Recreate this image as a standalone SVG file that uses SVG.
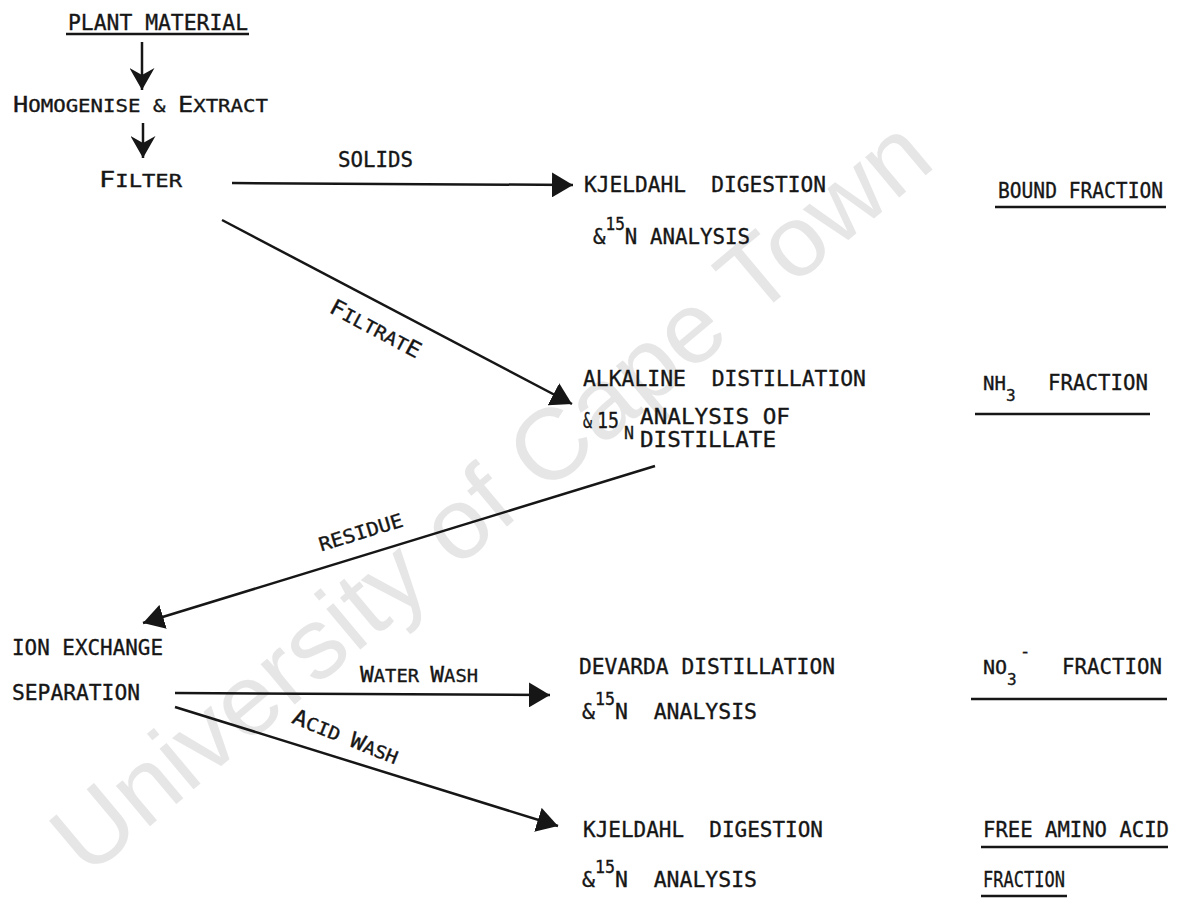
<svg xmlns="http://www.w3.org/2000/svg" width="1188" height="904" viewBox="0 0 1188 904">
<style>
text{font-family:"DejaVu Sans Mono","Liberation Mono",monospace;fill:#161616;stroke:#161616;stroke-width:0.35;font-size:22px;white-space:pre}
.sm{font-size:18px}
.sup{font-size:17px}
.lbl{font-size:18px}
.big{font-size:22px}
.wm{font-family:"Liberation Sans",Arial,sans-serif;fill:#e6e6e6;stroke:none;font-size:100px}
.c{stroke:#161616;stroke-width:2.5;fill:none}
.u{stroke:#161616;stroke-width:2.5}
.h{fill:#161616}
</style>
<defs>
<marker id="ah" viewBox="0 0 21 25" refX="21" refY="12.5" markerWidth="21" markerHeight="25" markerUnits="userSpaceOnUse" orient="auto"><path class="h" d="M0,0 L21,12.5 L0,25 Z"/></marker>
<marker id="dn" viewBox="0 0 22 25" refX="22" refY="12.5" markerWidth="22" markerHeight="25" markerUnits="userSpaceOnUse" orient="auto"><path class="h" d="M0,0 L7,12.5 L0,25 L22,12.5 Z"/></marker>
</defs>
<rect width="1188" height="904" fill="#fff"/>
<text class="wm" x="490" y="530" text-anchor="middle" textLength="1110" lengthAdjust="spacingAndGlyphs" transform="rotate(-40 490 495)">University of Cape Town</text>

<g id="connectors">
<path class="c" d="M142,42 L142,90" marker-end="url(#dn)"/>
<path class="c" d="M143,123 L143,158" marker-end="url(#dn)"/>
<path class="c" d="M232,183 L573,185" marker-end="url(#ah)"/>
<path class="c" d="M222,220 L572,404" marker-end="url(#ah)"/>
<path class="c" d="M655,466 L143,623" marker-end="url(#ah)"/>
<path class="c" d="M175,693 L550,695" marker-end="url(#ah)"/>
<path class="c" d="M175,707 L558,826" marker-end="url(#ah)"/>
<text class="lbl" style="font-size:21px" x="338" y="167" textLength="75" lengthAdjust="spacingAndGlyphs">SOLIDS</text>
<text class="lbl" x="375" y="336" text-anchor="middle" textLength="100" lengthAdjust="spacingAndGlyphs" transform="rotate(28 375 330)"><tspan class="big">F</tspan>ILTRAT<tspan class="big">E</tspan></text>
<text class="lbl" style="font-size:19px" x="361" y="539" text-anchor="middle" textLength="87" lengthAdjust="spacingAndGlyphs" transform="rotate(-17 361 533)">RESIDUE</text>
<text class="lbl" x="360" y="682" textLength="118" lengthAdjust="spacingAndGlyphs"><tspan class="big">W</tspan>ATER <tspan class="big">W</tspan>ASH</text>
<text class="lbl" x="345" y="744" text-anchor="middle" textLength="112" lengthAdjust="spacingAndGlyphs" transform="rotate(22 345 738)"><tspan class="big">A</tspan>CID <tspan class="big">W</tspan>ASH</text>
</g>

<g id="plant">
<text x="68" y="30" textLength="180" lengthAdjust="spacingAndGlyphs">PLANT MATERIAL</text>
<line class="u" x1="66" y1="34" x2="249" y2="34"/>
</g>
<g id="homogenise">
<text x="13" y="112" textLength="255" lengthAdjust="spacingAndGlyphs">H<tspan class="sm">OMOGENISE &amp; </tspan>E<tspan class="sm">XTRACT</tspan></text>
</g>
<g id="filter">
<text x="99" y="187" textLength="83" lengthAdjust="spacingAndGlyphs">F<tspan class="sm">ILTER</tspan></text>
</g>
<g id="kjeldahl1">
<text x="584" y="192" textLength="242" lengthAdjust="spacingAndGlyphs">KJELDAHL  DIGESTION</text>
<text x="593" y="244" textLength="157" lengthAdjust="spacingAndGlyphs">&amp;<tspan class="sup" dy="-14">15</tspan><tspan dy="14">N ANALYSIS</tspan></text>
</g>
<g id="bound">
<text x="998" y="198" textLength="165" lengthAdjust="spacingAndGlyphs">BOUND FRACTION</text>
<line class="u" x1="995" y1="207" x2="1166" y2="207"/>
</g>
<g id="alkaline">
<text x="583" y="386" textLength="283" lengthAdjust="spacingAndGlyphs">ALKALINE  DISTILLATION</text>
<text x="583" y="428" textLength="9" lengthAdjust="spacingAndGlyphs">&amp;</text>
<text x="597" y="428" textLength="22" lengthAdjust="spacingAndGlyphs">15</text>
<text class="sm" x="624" y="439" textLength="10" lengthAdjust="spacingAndGlyphs">N</text>
<text x="640" y="424" textLength="150" lengthAdjust="spacingAndGlyphs">ANALYSIS OF</text>
<text x="640" y="447" textLength="136" lengthAdjust="spacingAndGlyphs">DISTILLATE</text>
</g>
<g id="nh3">
<text x="983" y="390" style="font-size:19px">NH<tspan class="sup" style="font-size:16px" dy="11">3</tspan></text>
<text x="1048" y="390" textLength="100" lengthAdjust="spacingAndGlyphs">FRACTION</text>
<line class="u" x1="975" y1="414" x2="1150" y2="414"/>
</g>
<g id="ion">
<text x="12" y="655" textLength="151" lengthAdjust="spacingAndGlyphs">ION EXCHANGE</text>
<text x="12" y="700" textLength="128" lengthAdjust="spacingAndGlyphs">SEPARATION</text>
</g>
<g id="devarda">
<text x="579" y="674" textLength="256" lengthAdjust="spacingAndGlyphs">DEVARDA DISTILLATION</text>
<text x="582" y="719" textLength="175" lengthAdjust="spacingAndGlyphs">&amp;<tspan class="sup" dy="-14">15</tspan><tspan dy="14">N  ANALYSIS</tspan></text>
</g>
<g id="no3">
<text x="983" y="674" style="font-size:20px">NO<tspan class="sup" style="font-size:16px" dy="11">3</tspan></text>
<text class="sup" x="1020" y="657">-</text>
<text x="1062" y="674" textLength="100" lengthAdjust="spacingAndGlyphs">FRACTION</text>
<line class="u" x1="971" y1="699" x2="1167" y2="699"/>
</g>
<g id="kjeldahl2">
<text x="583" y="837" textLength="240" lengthAdjust="spacingAndGlyphs">KJELDAHL  DIGESTION</text>
<text x="582" y="887" textLength="175" lengthAdjust="spacingAndGlyphs">&amp;<tspan class="sup" dy="-14">15</tspan><tspan dy="14">N  ANALYSIS</tspan></text>
</g>
<g id="free">
<text x="983" y="837" textLength="186" lengthAdjust="spacingAndGlyphs">FREE AMINO ACID</text>
<line class="u" x1="981" y1="847" x2="1168" y2="847"/>
<text x="983" y="887" textLength="82" lengthAdjust="spacingAndGlyphs">FRACTION</text>
<line class="u" x1="981" y1="896" x2="1067" y2="896"/>
</g>
</svg>
